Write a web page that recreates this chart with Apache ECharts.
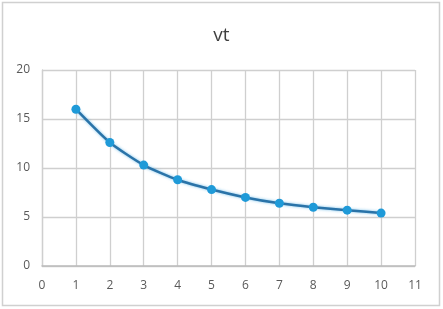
<!DOCTYPE html>
<html><head><meta charset="utf-8">
<script src="https://cdn.jsdelivr.net/npm/echarts@6/dist/echarts.min.js"></script>
<style>html,body{margin:0;padding:0;background:#fff}#c{width:443px;height:309px}</style>
</head><body><div id="c"></div>
<script>
const titleText = 'vt';
const tValues = [1, 2, 3, 4, 5, 6, 7, 8, 9, 10];
const vValues = [16.0, 12.6, 10.3, 8.8, 7.8, 7.0, 6.4, 6.0, 5.7, 5.4];
const xTicks = [0, 1, 2, 3, 4, 5, 6, 7, 8, 9, 10, 11];
const yTicks = [0, 5, 10, 15, 20];

const chart = echarts.init(document.getElementById('c'));
const font = 'Open Sans, Liberation Sans, sans-serif';
chart.setOption({
  animation: false,
  graphic: [{type:'rect', shape:{x:2.5,y:2.5,width:437,height:303}, style:{fill:'none', stroke:'#d0d0d0', lineWidth:1.5}}],
  title: {text: titleText, left: 'center', top: 21, textStyle:{fontSize:19, fontWeight:'normal', color:'#404040', fontFamily:font}},
  grid: {left: 42, right: 28, top: 70, bottom: 43},
  xAxis: {type:'value', min: xTicks[0], max: xTicks[xTicks.length-1], interval: 1,
    axisLine:{show:true, lineStyle:{color:'#bcbcbc', width:1.5}}, axisTick:{show:false},
    axisLabel:{color:'#595959', fontSize:12, margin:14, fontFamily:font},
    splitLine:{show:true, lineStyle:{color:'#cfcfcf', width:1.3}}},
  yAxis: {type:'value', min: yTicks[0], max: yTicks[yTicks.length-1], interval: 5,
    axisLine:{show:true, lineStyle:{color:'#cfcfcf', width:1.3}}, axisTick:{show:false},
    axisLabel:{color:'#595959', fontSize:12, margin:12, fontFamily:font},
    splitLine:{show:true, lineStyle:{color:'#cfcfcf', width:1.3}}},
  series: [{type:'line', data: tValues.map((t,i)=>[t, vValues[i]]),
    smooth: 0.2, symbol:'circle', symbolSize: 9,
    lineStyle:{color:'#2a73a8', width:2.5, shadowColor:'rgba(30,150,220,0.6)', shadowBlur:3},
    itemStyle:{color:'#1f9ad8'}}]
});
</script></body></html>
